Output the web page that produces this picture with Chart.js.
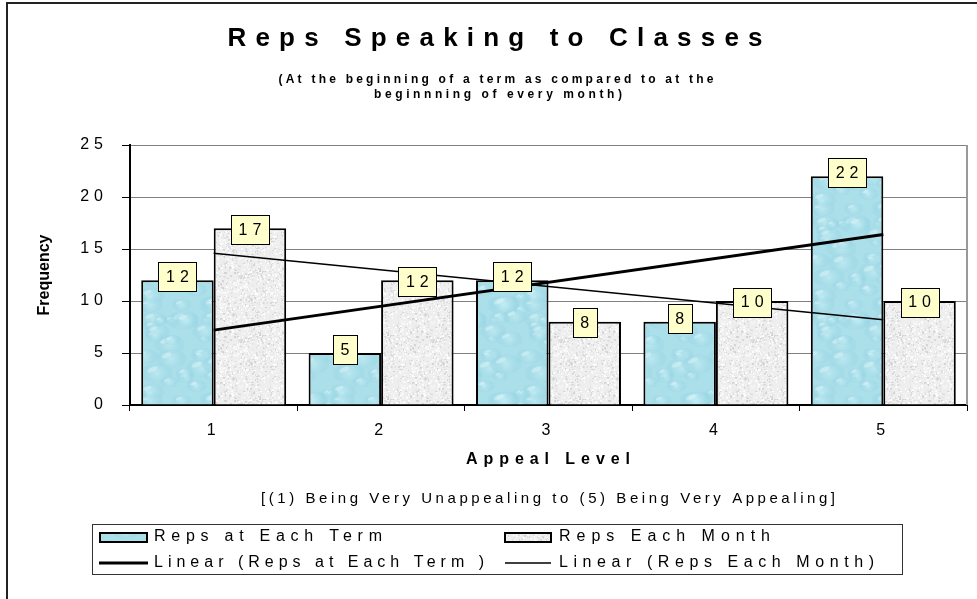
<!DOCTYPE html>
<html>
<head>
<meta charset="utf-8">
<title>Reps Speaking to Classes</title>
<script src="https://cdn.jsdelivr.net/npm/chart.js@4.4.1/dist/chart.umd.min.js"></script>
<style>
  html, body { margin: 0; padding: 0; background: #fff; }
  canvas { display: block; }
</style>
</head>
<body>
<canvas id="reps-chart" width="977" height="599"></canvas>
<script>
const appealLevels = ["1", "2", "3", "4", "5"];
const repsEachTerm = [12, 5, 12, 8, 22];
const repsEachMonth = [17, 12, 8, 10, 10];
// Excel linear trendlines, ends
const trendEachTerm = [7.2, null, null, null, 16.4];
const trendEachMonth = [14.6, null, null, null, 8.2];
const yTicks = [0, 5, 10, 15, 20, 25];

const FONT = "'Liberation Sans', Arial, sans-serif";
Chart.defaults.font.family = FONT;
Chart.defaults.color = "#000";

// small deterministic generator, only used for the bar textures
let seed = 12345;
function rnd() {
  seed = (seed * 16807) % 2147483647;
  return seed / 2147483647;
}

function waterPattern(ctx) {
  const size = 96;
  const c = document.createElement("canvas");
  c.width = size;
  c.height = size;
  const g = c.getContext("2d");
  g.fillStyle = "#abdfe9";
  g.fillRect(0, 0, size, size);
  for (let i = 0; i < 40; i++) {
    const x = rnd() * size, y = rnd() * size, r = 4 + rnd() * 8;
    for (const dx of [-size, 0, size]) {
      for (const dy of [-size, 0, size]) {
        const cx = x + dx, cy = y + dy;
        const grad = g.createRadialGradient(cx, cy, 0, cx, cy, r * 1.4);
        grad.addColorStop(0, "rgba(205,242,248,0.5)");
        grad.addColorStop(0.7, "rgba(150,212,228,0.35)");
        grad.addColorStop(1, "rgba(120,196,216,0)");
        g.fillStyle = grad;
        g.beginPath();
        g.ellipse(cx, cy, r * 1.4, r * 0.8, 0, 0, Math.PI * 2);
        g.fill();
        g.fillStyle = "rgba(240,252,255,0.35)";
        g.beginPath();
        g.ellipse(cx - r * 0.4, cy - r * 0.3, r * 0.45, r * 0.2, -0.4, 0, Math.PI * 2);
        g.fill();
      }
    }
  }
  return ctx.createPattern(c, "repeat");
}

function granitePattern(ctx) {
  const size = 64;
  const c = document.createElement("canvas");
  c.width = size;
  c.height = size;
  const g = c.getContext("2d");
  g.fillStyle = "#eeeeee";
  g.fillRect(0, 0, size, size);
  const tones = ["rgba(205,205,205,0.7)", "rgba(255,255,255,0.8)", "rgba(220,220,220,0.8)", "rgba(248,248,248,0.9)"];
  for (let i = 0; i < 700; i++) {
    g.fillStyle = tones[Math.floor(rnd() * tones.length)];
    g.fillRect(Math.floor(rnd() * size), Math.floor(rnd() * size), 1 + Math.floor(rnd() * 2), 1 + Math.floor(rnd() * 2));
  }
  return ctx.createPattern(c, "repeat");
}

// text stretched with letter spacing to the width it has in the original
function spacedText(ctx, text, x, y, font, width, align) {
  ctx.font = font;
  ctx.letterSpacing = "0px";
  const plain = ctx.measureText(text).width;
  const gap = Math.max(0, (width - plain) / (text.length - 1));
  ctx.letterSpacing = gap + "px";
  ctx.textAlign = "left";
  ctx.textBaseline = "middle";
  ctx.fillText(text, align === "center" ? x - width / 2 : x, y);
  ctx.letterSpacing = "0px";
}

const canvas = document.getElementById("reps-chart");
const ctx2d = canvas.getContext("2d");
const waterFill = waterPattern(ctx2d);
const graniteFill = granitePattern(ctx2d);

const tickSpacing = {
  id: "tickSpacing",
  beforeDraw(chart) {
    chart.ctx.letterSpacing = "5px";
  },
  afterDraw(chart) {
    chart.ctx.letterSpacing = "0px";
  }
};

const valueBoxes = {
  id: "valueBoxes",
  afterDatasetsDraw(chart) {
    const ctx = chart.ctx;
    ctx.save();
    ctx.font = "16px " + FONT;
    ctx.letterSpacing = "5px";
    ctx.textAlign = "center";
    ctx.textBaseline = "middle";
    chart.data.datasets.forEach((ds, i) => {
      if (ds.type !== "bar") return;
      chart.getDatasetMeta(i).data.forEach((bar, j) => {
        const txt = String(ds.data[j]);
        const w = ctx.measureText(txt).width - 5;
        const bw = Math.round(w + 15), bh = 29;
        const cx = bar.x, cy = bar.y + ds.labelOffset;
        const left = Math.round(cx - bw / 2) + 0.5, top = Math.round(cy - bh / 2) + 0.5;
        ctx.fillStyle = "#ffffcc";
        ctx.fillRect(left, top, bw, bh);
        ctx.strokeStyle = "#000";
        ctx.lineWidth = 1;
        ctx.strokeRect(left, top, bw, bh);
        ctx.fillStyle = "#000";
        ctx.fillText(txt, cx + 2.5, cy + 1);
      });
    });
    ctx.restore();
  }
};

const decorations = {
  id: "decorations",
  afterDraw(chart) {
    const ctx = chart.ctx;
    const area = chart.chartArea;
    ctx.save();

    // plot area right edge
    ctx.strokeStyle = "#999";
    ctx.lineWidth = 2;
    ctx.beginPath();
    ctx.moveTo(area.right, area.top);
    ctx.lineTo(area.right, area.bottom);
    ctx.stroke();

    // outer chart frame
    ctx.strokeStyle = "#222";
    ctx.lineWidth = 2;
    ctx.beginPath();
    ctx.moveTo(977, 3);
    ctx.lineTo(7, 3);
    ctx.lineTo(7, 599);
    ctx.stroke();

    ctx.fillStyle = "#000";
    spacedText(ctx, "Reps Speaking to Classes", 495, 39, "bold 26px " + FONT, 535, "center");
    spacedText(ctx, "(At the beginning of a term as compared to at the", 496, 80, "bold 12px " + FONT, 435, "center");
    spacedText(ctx, "beginnning of every month)", 498, 95, "bold 12px " + FONT, 248, "center");
    spacedText(ctx, "Appeal Level", 548, 460, "bold 16px " + FONT, 164, "center");
    spacedText(ctx, "[(1) Being Very Unappealing to (5) Being Very Appealing]", 548, 499, "15px " + FONT, 574, "center");

    ctx.save();
    ctx.translate(45, 275);
    ctx.rotate(-Math.PI / 2);
    ctx.font = "bold 16px " + FONT;
    ctx.textAlign = "center";
    ctx.textBaseline = "middle";
    ctx.fillText("Frequency", 0, 0);
    ctx.restore();

    // legend
    const ds = chart.data.datasets;
    ctx.strokeStyle = "#333";
    ctx.lineWidth = 1;
    ctx.strokeRect(92.5, 524.5, 810, 50);

    ctx.lineWidth = 2;
    ctx.strokeStyle = "#000";
    ctx.fillStyle = waterFill;
    ctx.fillRect(100, 533, 47, 9);
    ctx.strokeRect(100, 533, 47, 9);
    ctx.fillStyle = graniteFill;
    ctx.fillRect(505, 533, 46, 9);
    ctx.strokeRect(505, 533, 46, 9);

    ctx.beginPath();
    ctx.lineWidth = 3;
    ctx.moveTo(99, 563);
    ctx.lineTo(148, 563);
    ctx.stroke();
    ctx.beginPath();
    ctx.lineWidth = 1.5;
    ctx.moveTo(505, 563);
    ctx.lineTo(551, 563);
    ctx.stroke();

    ctx.fillStyle = "#000";
    spacedText(ctx, ds[2].label, 154, 537, "16px " + FONT, 228, "left");
    spacedText(ctx, ds[3].label, 559, 537, "16px " + FONT, 211, "left");
    spacedText(ctx, ds[0].label, 154, 563, "16px " + FONT, 330, "left");
    spacedText(ctx, ds[1].label, 559, 563, "16px " + FONT, 315, "left");

    ctx.restore();
  }
};

new Chart(canvas, {
  type: "bar",
  data: {
    labels: appealLevels,
    datasets: [
      {
        type: "line",
        label: "Linear (Reps at Each Term )",
        data: trendEachTerm,
        borderColor: "#000",
        borderWidth: 3,
        pointRadius: 0,
        spanGaps: true,
        order: 1
      },
      {
        type: "line",
        label: "Linear (Reps Each Month)",
        data: trendEachMonth,
        borderColor: "#000",
        borderWidth: 1.5,
        pointRadius: 0,
        spanGaps: true,
        order: 1
      },
      {
        type: "bar",
        label: "Reps at Each Term",
        data: repsEachTerm,
        backgroundColor: waterFill,
        borderColor: "#000",
        borderWidth: 2,
        labelOffset: -3.5,
        order: 2
      },
      {
        type: "bar",
        label: "Reps Each Month",
        data: repsEachMonth,
        backgroundColor: graniteFill,
        borderColor: "#000",
        borderWidth: 2,
        labelOffset: 1,
        order: 2
      }
    ]
  },
  options: {
    responsive: false,
    animation: false,
    layout: { padding: { left: 0, right: 10, top: 145, bottom: 154 } },
    datasets: {
      bar: { categoryPercentage: 0.866, barPercentage: 1 }
    },
    plugins: {
      legend: { display: false },
      title: { display: false },
      tooltip: { enabled: false }
    },
    scales: {
      x: {
        grid: { offset: true, drawOnChartArea: false, tickLength: 6, tickColor: "#000" },
        border: { color: "#000", width: 2 },
        ticks: { color: "#000", font: { size: 16 }, padding: 10 },
        afterFit(scale) { scale.height = 40; }
      },
      y: {
        min: 0,
        max: 25,
        afterBuildTicks(scale) { scale.ticks = yTicks.map(v => ({ value: v })); },
        grid: { color: "#808080", tickColor: "#000", tickLength: 8 },
        border: { color: "#000", width: 2 },
        ticks: { color: "#000", font: { size: 16 }, padding: 14 },
        afterFit(scale) { scale.width = 130; }
      }
    }
  },
  plugins: [tickSpacing, valueBoxes, decorations]
});
</script>
</body>
</html>
